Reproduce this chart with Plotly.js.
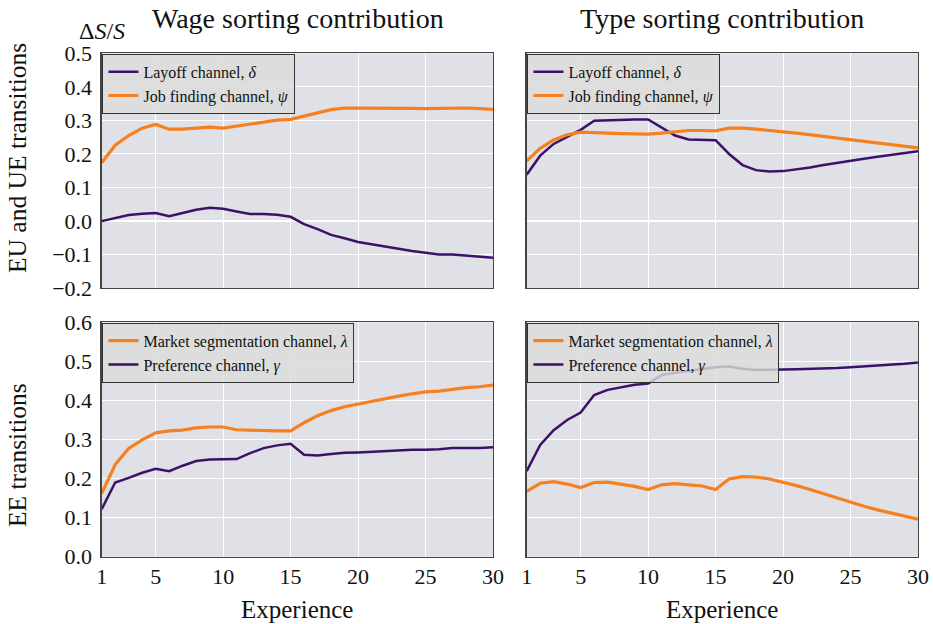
<!DOCTYPE html>
<html>
<head>
<meta charset="utf-8">
<script src="https://cdn.plot.ly/plotly-3.0.1.min.js"></script>
<style>html,body{margin:0;padding:0;background:#fff;}#chart{width:933px;height:624px;}</style>
</head>
<body>
<div id="chart"></div>
<script>
const experience = [1,2,3,4,5,6,7,8,9,10,11,12,13,14,15,16,17,18,19,20,21,22,23,24,25,26,27,28,29,30];

// Wage sorting contribution, EU/UE transitions
const wageLayoff = [0.000,0.010,0.018,0.022,0.024,0.015,0.024,0.034,0.040,0.037,0.029,0.021,0.021,0.019,0.013,-0.009,-0.024,-0.041,-0.051,-0.062,-0.069,-0.076,-0.081,-0.089,-0.094,-0.099,-0.099,-0.102,-0.107,-0.109];
const wageJobFinding = [0.174,0.226,0.255,0.277,0.288,0.274,0.274,0.276,0.280,0.277,0.283,0.288,0.295,0.301,0.303,0.313,0.323,0.332,0.337,0.337,0.338,0.337,0.337,0.336,0.335,0.336,0.338,0.337,0.335,0.333];

// Type sorting contribution, EU/UE transitions
const typeLayoff = [0.138,0.195,0.230,0.252,0.272,0.299,0.301,0.302,0.303,0.303,0.280,0.255,0.243,0.242,0.241,0.200,0.167,0.152,0.148,0.149,0.154,0.160,0.167,0.174,0.180,0.186,0.192,0.197,0.202,0.208];
const typeJobFinding = [0.179,0.217,0.242,0.257,0.265,0.263,0.262,0.261,0.260,0.259,0.262,0.267,0.270,0.270,0.269,0.277,0.277,0.274,0.271,0.266,0.262,0.257,0.252,0.247,0.242,0.237,0.232,0.227,0.223,0.218];

// Wage sorting contribution, EE transitions
const wageMarketSeg = [0.162,0.236,0.277,0.299,0.317,0.322,0.324,0.330,0.332,0.332,0.325,0.324,0.321,0.322,0.322,0.343,0.361,0.374,0.384,0.391,0.399,0.405,0.411,0.417,0.422,0.424,0.429,0.433,0.435,0.439];
const wagePreference = [0.122,0.190,0.202,0.215,0.225,0.219,0.233,0.245,0.249,0.250,0.250,0.265,0.278,0.285,0.289,0.261,0.259,0.263,0.266,0.267,0.269,0.270,0.273,0.274,0.274,0.275,0.278,0.278,0.278,0.280];

// Type sorting contribution, EE transitions
const typeMarketSeg = [0.167,0.188,0.192,0.186,0.177,0.190,0.191,0.186,0.180,0.172,0.184,0.187,0.185,0.181,0.172,0.199,0.205,0.204,0.199,0.191,0.182,0.172,0.161,0.150,0.139,0.129,0.120,0.112,0.103,0.096];
const typePreference = [0.219,0.286,0.324,0.350,0.369,0.414,0.427,0.434,0.440,0.443,0.465,0.471,0.476,0.481,0.485,0.487,0.481,0.478,0.478,0.479,0.480,0.481,0.481,0.483,0.485,0.487,0.489,0.492,0.494,0.497];

const xTicks = [1,5,10,15,20,25,30];
const topYTicks = [-0.2,-0.1,0.0,0.1,0.2,0.3,0.4,0.5];
const botYTicks = [0.0,0.1,0.2,0.3,0.4,0.5,0.6];

const PURPLE = '#3b1268';
const ORANGE = '#f6801f';
const FONT = 'Liberation Serif, DejaVu Serif, serif';

function tr(y, name, color, width, xa, ya, legend) {
  return {x: experience, y: y, name: name, type: 'scatter', mode: 'lines',
    line: {color: color, width: width}, xaxis: xa, yaxis: ya, legend: legend};
}

const data = [
  tr(wageLayoff, 'Layoff channel, <i>δ</i>', PURPLE, 2.5, 'x', 'y', 'legend'),
  tr(wageJobFinding, 'Job finding channel, <i>ψ</i>', ORANGE, 3.2, 'x', 'y', 'legend'),
  tr(typeLayoff, 'Layoff channel, <i>δ</i>', PURPLE, 2.5, 'x2', 'y2', 'legend2'),
  tr(typeJobFinding, 'Job finding channel, <i>ψ</i>', ORANGE, 3.2, 'x2', 'y2', 'legend2'),
  tr(wageMarketSeg, 'Market segmentation channel, <i>λ</i>', ORANGE, 3.2, 'x3', 'y3', 'legend3'),
  tr(wagePreference, 'Preference channel, <i>γ</i>', PURPLE, 2.5, 'x3', 'y3', 'legend3'),
  tr(typeMarketSeg, 'Market segmentation channel, <i>λ</i>', ORANGE, 3.2, 'x4', 'y4', 'legend4'),
  tr(typePreference, 'Preference channel, <i>γ</i>', PURPLE, 2.5, 'x4', 'y4', 'legend4')
];

const xL = [0.1090, 0.5284], xR = [0.5645, 0.9839];
const yT = [0.5380, 0.9146], yB = [0.1078, 0.4835];

function xax(domain, anchor, showLabels) {
  return {domain: domain, anchor: anchor, range: [1, 30], tickvals: xTicks,
    showticklabels: showLabels, showgrid: true, gridcolor: '#ffffff', gridwidth: 1,
    zeroline: false, showline: true, linecolor: '#444', linewidth: 1.2, mirror: true,
    ticks: '', tickfont: {size: 22, color: '#111', family: FONT}};
}
function yax(domain, anchor, range, ticks, showLabels) {
  return {domain: domain, anchor: anchor, range: range, tickvals: ticks, tickformat: '.1f',
    showticklabels: showLabels, showgrid: true, gridcolor: '#ffffff', gridwidth: 1,
    zeroline: true, zerolinecolor: '#ffffff', zerolinewidth: 2,
    showline: true, linecolor: '#444', linewidth: 1.2, mirror: true,
    ticks: '', ticklabelstandoff: 4, tickfont: {size: 22, color: '#111', family: FONT}};
}
function leg(x, y) {
  return {x: x, y: y, xanchor: 'left', yanchor: 'top', xref: 'paper', yref: 'paper',
    bgcolor: 'rgba(218,220,217,0.82)', bordercolor: '#333', borderwidth: 1,
    font: {size: 16, family: FONT, color: '#111'}, tracegroupgap: 0, itemwidth: 30};
}

function ann(text, px, py, size, angle) {
  return {text: text, x: px / 933, y: 1 - py / 624, xref: 'paper', yref: 'paper',
    xanchor: 'center', yanchor: 'middle', showarrow: false, textangle: angle || 0,
    font: {size: size, family: FONT, color: '#111'}};
}

const layout = {
  width: 933, height: 624,
  margin: {l: 0, r: 0, t: 0, b: 0},
  paper_bgcolor: '#ffffff', plot_bgcolor: '#e0e0e7',
  font: {family: FONT, color: '#111'},
  showlegend: true,
  xaxis: xax(xL, 'y', false),
  yaxis: yax(yT, 'x', [-0.2, 0.5], topYTicks, true),
  xaxis2: xax(xR, 'y2', false),
  yaxis2: yax(yT, 'x2', [-0.2, 0.5], topYTicks, false),
  xaxis3: xax(xL, 'y3', true),
  yaxis3: yax(yB, 'x3', [0, 0.6], botYTicks, true),
  xaxis4: xax(xR, 'y4', true),
  yaxis4: yax(yB, 'x4', [0, 0.6], botYTicks, false),
  legend: leg(0.1098, 0.9138),
  legend2: leg(0.5653, 0.9138),
  legend3: leg(0.1098, 0.4827),
  legend4: leg(0.5653, 0.4827),
  annotations: [
    ann('Wage sorting contribution', 297.5, 18, 28),
    ann('Type sorting contribution', 722, 18, 28),
    ann('Δ<i>S</i>/<i>S</i>', 102, 31, 24),
    ann('EU and UE transitions', 17, 158, 25.5, -90),
    ann('EE transitions', 17, 455, 25.5, -90),
    ann('Experience', 297, 609, 25),
    ann('Experience', 722, 609, 25)
  ]
};

Plotly.newPlot('chart', data, layout, {staticPlot: true, displayModeBar: false});
</script>
</body>
</html>
